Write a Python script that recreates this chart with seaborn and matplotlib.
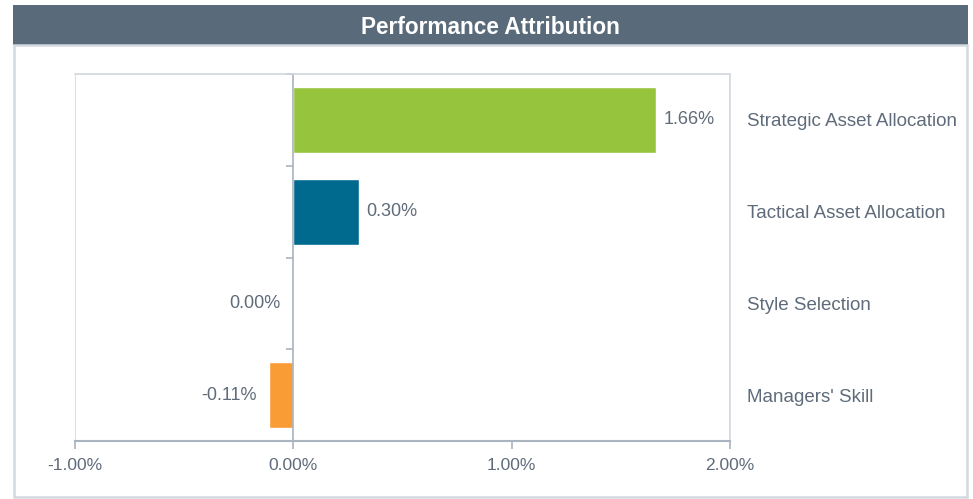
import numpy as np
import pandas as pd
import matplotlib
matplotlib.use("Agg")
import matplotlib.pyplot as plt
from matplotlib.patches import Rectangle
from matplotlib.ticker import FixedLocator, FuncFormatter
import seaborn as sns

# data
categories = ["Strategic Asset Allocation", "Tactical Asset Allocation",
              "Style Selection", "Managers' Skill"]
values = [1.66, 0.30, 0.00, -0.11]
bar_colors = ["#97c43d", "#006a8e", "#8c8c8c", "#f99c35"]
x_ticks = [-1.0, 0.0, 1.0, 2.0]

df = pd.DataFrame({"category": categories, "value": values})

sns.set_theme(style="white")
plt.rcParams["font.family"] = ["Liberation Sans", "DejaVu Sans"]

text_col = "#5f6b7a"
frame_col = "#d3d9e0"
axis_col = "#a9b4c0"
title_bg = "#596b7a"

fig = plt.figure(figsize=(9.73, 4.99), dpi=100)

# title bar and outer panel
fig.patches.append(Rectangle((13 / 973, 1 - 45 / 499), 955 / 973, 40 / 499,
                             transform=fig.transFigure, facecolor=title_bg,
                             edgecolor="none", zorder=-2))
fig.patches.append(Rectangle((14 / 973, 2 / 499), 953 / 973, 1 - 47 / 499,
                             transform=fig.transFigure, facecolor="white",
                             edgecolor=frame_col, linewidth=1.8, zorder=-2))
fig.text(490 / 973, 1 - 27 / 499, "Performance Attribution", color="white",
         fontsize=16.3, fontweight="bold", ha="center", va="center")

ax = fig.add_axes([75 / 973, 1 - 441 / 499, 655 / 973, 367 / 499])
ax.set_facecolor("white")

sns.barplot(data=df, x="value", y="category", hue="category",
            palette=bar_colors, width=0.72, legend=False, ax=ax,
            orient="h", saturation=1)

ax.set_xlim(-1, 2)
ax.set_ylim(3.5, -0.5)
ax.set_xlabel("")
ax.set_ylabel("")

# frame
for side in ["top", "right"]:
    ax.spines[side].set_color(frame_col)
    ax.spines[side].set_linewidth(1.2)
ax.spines["bottom"].set_color(axis_col)
ax.spines["bottom"].set_linewidth(1.5)
ax.spines["left"].set_position(("data", 0))
ax.spines["left"].set_color(axis_col)
ax.spines["left"].set_linewidth(1.2)
ax.add_patch(Rectangle((0, 0), 1, 1, transform=ax.transAxes, fill=False,
                       edgecolor=frame_col, linewidth=1.2, zorder=0.5))

# x axis
ax.xaxis.set_major_locator(FixedLocator(x_ticks))
ax.xaxis.set_major_formatter(FuncFormatter(lambda v, p: f"{v:.2f}%"))
ax.tick_params(axis="x", which="major", bottom=True, length=6, width=1.2,
               color=axis_col, labelcolor=text_col, labelsize=12.5, pad=6)

# y axis: labels on right, small ticks on zero line between categories
ax.yaxis.set_minor_locator(FixedLocator(np.arange(len(categories) + 1) - 0.5))
ax.tick_params(axis="y", which="major", left=False, right=False, length=0,
               labelleft=False, labelright=True, labelcolor=text_col,
               labelsize=13.5, pad=12)
ax.tick_params(axis="y", which="minor", left=True, right=False, length=5,
               width=1.2, color=axis_col)

# value labels
for i, v in enumerate(values):
    if v > 0:
        ax.annotate(f"{v:.2f}%", (v, i), xytext=(5.5, 0), textcoords="offset points",
                    ha="left", va="center", fontsize=13, color=text_col)
    else:
        ax.annotate(f"{v:.2f}%", (v, i), xytext=(-9, 0), textcoords="offset points",
                    ha="right", va="center", fontsize=13, color=text_col)

fig.savefig("out.png", dpi=100, facecolor="white")
